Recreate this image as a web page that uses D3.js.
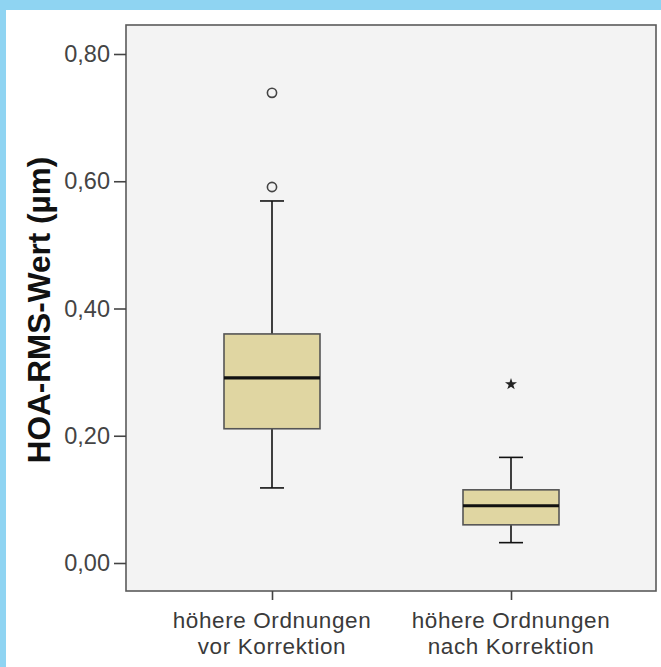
<!DOCTYPE html>
<html>
<head>
<meta charset="utf-8">
<script src="https://cdn.jsdelivr.net/npm/d3@7"></script>
<style>
  html, body { margin: 0; padding: 0; background: #8fd4f2; }
  svg { display: block; }
</style>
</head>
<body>
<svg id="chart" width="661" height="667"></svg>
<script>
// Box plot data: HOA-RMS values before and after correction
const categories = ["höhere Ordnungen\nvor Korrektion", "höhere Ordnungen\nnach Korrektion"];
const whiskerLow  = [0.118, 0.032];
const q1          = [0.211, 0.060];
const median      = [0.291, 0.090];
const q3          = [0.360, 0.115];
const whiskerHigh = [0.569, 0.166];
// outliers: [category index, value]
const circleOutliers = [[0, 0.739], [0, 0.591]];
const extremeOutliers = [[1, 0.281]];
const yTicks = [0, 0.2, 0.4, 0.6, 0.8];
const yTitle = "HOA-RMS-Wert (µm)";

const svg = d3.select("#chart");
const W = 661, H = 667;
const font = "Liberation Sans, Arial, sans-serif";

// white panel inside the blue frame
svg.append("rect").attr("x", 6).attr("y", 10).attr("width", W - 6).attr("height", H - 10).attr("fill", "#ffffff");

const plot = { left: 126, top: 25, right: 656, bottom: 591 };

const y = d3.scaleLinear().domain([0, 0.8]).range([563, 54]);
const x = d3.scalePoint().domain(d3.range(categories.length)).range([272, 511]);

// plot background and frame
svg.append("rect")
  .attr("x", plot.left).attr("y", plot.top)
  .attr("width", plot.right - plot.left).attr("height", plot.bottom - plot.top)
  .attr("fill", "#f3f3f3").attr("stroke", "#5a5a5a").attr("stroke-width", 1.6);

// y axis
const yAxis = d3.axisLeft(y).tickValues(yTicks).tickSize(12).tickPadding(4)
  .tickFormat(d => d3.format(".2f")(d).replace(".", ","));
const gy = svg.append("g").attr("transform", `translate(${plot.left},0)`).call(yAxis);
gy.select(".domain").remove();
gy.selectAll(".tick line").attr("stroke", "#444").attr("stroke-width", 1.6);
gy.selectAll(".tick text")
  .attr("font-family", font)
  .attr("font-size", 23.5).attr("fill", "#444");

// x axis (category ticks below the frame)
const xAxis = d3.axisBottom(x).tickSize(9).tickFormat("");
const gx = svg.append("g").attr("transform", `translate(0,${plot.bottom})`).call(xAxis);
gx.select(".domain").remove();
gx.selectAll(".tick line").attr("stroke", "#444").attr("stroke-width", 1.6);

// category labels, two lines each
categories.forEach((c, i) => {
  c.split("\n").forEach((l, k) => {
    svg.append("text")
      .attr("x", x(i)).attr("y", 628 + k * 25.5)
      .attr("text-anchor", "middle")
      .attr("font-family", font)
      .attr("font-size", 22.5)
      .attr("letter-spacing", 0.6)
      .attr("fill", "#3a3a3a")
      .text(l);
  });
});

// y axis title
svg.append("text")
  .attr("transform", `translate(50,310) rotate(-90)`)
  .attr("text-anchor", "middle")
  .attr("font-family", font)
  .attr("font-weight", "bold")
  .attr("font-size", 31.5).attr("fill", "#111")
  .text(yTitle);

// boxes
const boxW = 96, capW = 24;
const g = svg.append("g");
categories.forEach((c, i) => {
  const cx = x(i);
  // whiskers
  g.append("line").attr("x1", cx).attr("x2", cx).attr("y1", y(q3[i])).attr("y2", y(whiskerHigh[i]))
    .attr("stroke", "#111").attr("stroke-width", 1.6);
  g.append("line").attr("x1", cx).attr("x2", cx).attr("y1", y(q1[i])).attr("y2", y(whiskerLow[i]))
    .attr("stroke", "#111").attr("stroke-width", 1.6);
  [whiskerHigh[i], whiskerLow[i]].forEach(v => {
    g.append("line").attr("x1", cx - capW / 2).attr("x2", cx + capW / 2).attr("y1", y(v)).attr("y2", y(v))
      .attr("stroke", "#111").attr("stroke-width", 1.6);
  });
  // box
  g.append("rect").attr("x", cx - boxW / 2).attr("y", y(q3[i]))
    .attr("width", boxW).attr("height", y(q1[i]) - y(q3[i]))
    .attr("fill", "#e0d6a2").attr("stroke", "#555").attr("stroke-width", 1.6);
  // median
  g.append("line").attr("x1", cx - boxW / 2).attr("x2", cx + boxW / 2)
    .attr("y1", y(median[i])).attr("y2", y(median[i]))
    .attr("stroke", "#111").attr("stroke-width", 3.2);
});

// circle outliers
g.selectAll("circle.out").data(circleOutliers).enter().append("circle")
  .attr("cx", d => x(d[0])).attr("cy", d => y(d[1])).attr("r", 4.6)
  .attr("fill", "none").attr("stroke", "#444").attr("stroke-width", 1.6);

// extreme outliers (stars)
g.selectAll("path.ext").data(extremeOutliers).enter().append("path")
  .attr("transform", d => `translate(${x(d[0])},${y(d[1])})`)
  .attr("d", d3.symbol().type(d3.symbolStar).size(45))
  .attr("fill", "#222");
</script>
</body>
</html>
